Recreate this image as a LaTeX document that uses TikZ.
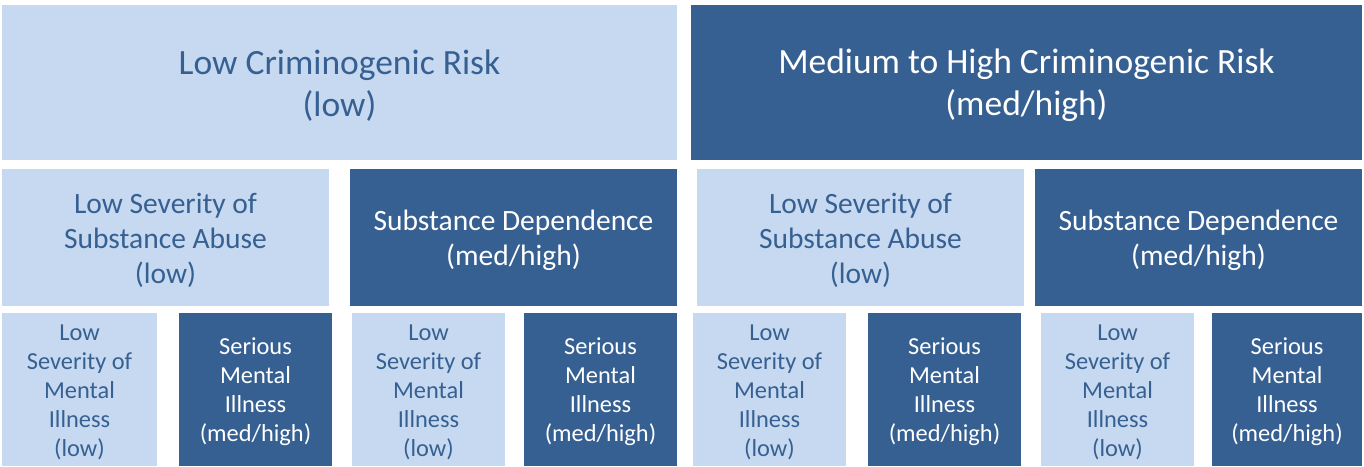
\documentclass[tikz,border=0pt]{standalone}
\usepackage{fontspec}
\setmainfont{Carlito}
\definecolor{riskpale}{HTML}{C6D9F0}
\definecolor{riskdark}{HTML}{366092}
\tikzset{
  pale/.style={fill=riskpale,text=riskdark,inner sep=0pt,align=center},
  deep/.style={fill=riskdark,text=white,inner sep=0pt,align=center},
  toprow/.style={text height=72.5pt,minimum height=155pt,font=\fontsize{35.5}{42}\selectfont},
  midrow/.style={minimum width=327pt,minimum height=137pt,font=\fontsize{29.5}{35}\selectfont},
  lowrow/.style={minimum width=153pt,minimum height=153pt,font=\fontsize{24.4}{29}\selectfont},
  lowsub/.style={pale,midrow,text height=96.4pt},
  highsub/.style={deep,midrow,text height=61.4pt},
  lowmi/.style={pale,lowrow,text height=137.7pt},
  highmi/.style={deep,lowrow,text height=108.9pt}
}
\begin{document}
\begin{tikzpicture}[x=1pt,y=-1pt]
  \useasboundingbox (0,0) rectangle (1364,466);
  % criminogenic risk
  \node[pale,toprow,minimum width=675pt] (lowrisk) at (339.5,82.5) {Low Criminogenic Risk\\(low)};
  \node[deep,toprow,minimum width=671pt] (highrisk) at (1026.5,82.5) {Medium to High Criminogenic Risk\\(med/high)};
  % substance use
  \node[lowsub] (lowsub1) at (165.5,237.5) {Low Severity of\\Substance Abuse\\(low)};
  \node[highsub] (highsub1) at (513.5,237.5) {Substance Dependence\\(med/high)};
  \node[lowsub] (lowsub2) at (860.5,237.5) {Low Severity of\\Substance Abuse\\(low)};
  \node[highsub] (highsub2) at (1198.5,237.5) {Substance Dependence\\(med/high)};
  % mental illness
  \node[lowmi,minimum width=155pt] (lowmi1) at (79.5,389.5) {Low\\Severity of\\Mental\\Illness\\(low)};
  \node[highmi] (highmi1) at (255.5,389.5) {Serious\\Mental\\Illness\\(med/high)};
  \node[lowmi] (lowmi2) at (428.5,389.5) {Low\\Severity of\\Mental\\Illness\\(low)};
  \node[highmi] (highmi2) at (600.5,389.5) {Serious\\Mental\\Illness\\(med/high)};
  \node[lowmi] (lowmi3) at (769.5,389.5) {Low\\Severity of\\Mental\\Illness\\(low)};
  \node[highmi] (highmi3) at (944.5,389.5) {Serious\\Mental\\Illness\\(med/high)};
  \node[lowmi] (lowmi4) at (1117.5,389.5) {Low\\Severity of\\Mental\\Illness\\(low)};
  \node[highmi,minimum width=150pt] (highmi4) at (1287,389.5) {Serious\\Mental\\Illness\\(med/high)};
\end{tikzpicture}
\end{document}
